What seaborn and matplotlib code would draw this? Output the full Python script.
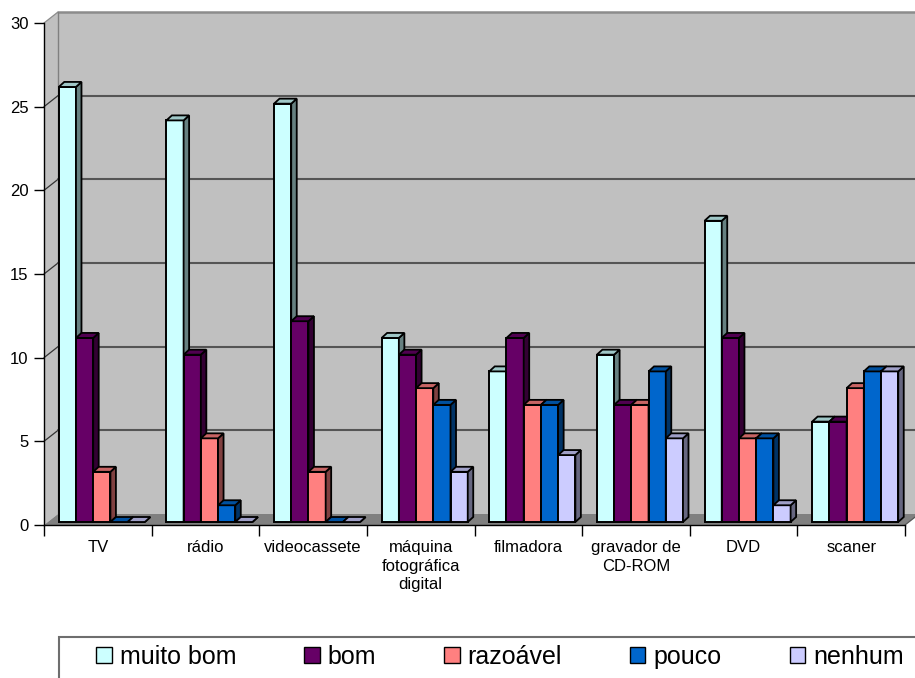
import numpy as np
import pandas as pd
import matplotlib
matplotlib.use("Agg")
import matplotlib.pyplot as plt
from matplotlib.patches import Polygon, Rectangle, Patch
from matplotlib.lines import Line2D
from matplotlib.transforms import ScaledTranslation
import seaborn as sns

# ---- data ----
itens = ["TV", "rádio", "videocassete", "máquina\nfotográfica\ndigital",
         "filmadora", "gravador de\nCD-ROM", "DVD", "scaner"]
avaliacoes = ["muito bom", "bom", "razoável", "pouco", "nenhum"]
muito_bom = [26, 24, 25, 11, 9, 10, 18, 6]
bom = [11, 10, 12, 10, 11, 7, 11, 6]
razoavel = [3, 5, 3, 8, 7, 7, 5, 8]
pouco = [0, 1, 0, 7, 7, 9, 5, 9]
nenhum = [0, 0, 0, 3, 4, 5, 1, 9]
cores = ["#CCFFFF", "#660066", "#FF8080", "#0066CC", "#CCCCFF"]
y_ticks = [0, 5, 10, 15, 20, 25, 30]

series = [muito_bom, bom, razoavel, pouco, nenhum]
df = pd.DataFrame({
    "item": [it for s in series for it in itens],
    "avaliação": [a for a, s in zip(avaliacoes, series) for _ in s],
    "valor": [v for s in series for v in s],
})

sns.set_theme(style="white")
plt.rcParams["font.family"] = ["Liberation Sans", "DejaVu Sans"]
plt.rcParams["text.color"] = "black"
plt.rcParams["xtick.color"] = "black"
plt.rcParams["ytick.color"] = "black"
plt.rcParams["xtick.labelcolor"] = "black"
plt.rcParams["ytick.labelcolor"] = "black"

W, H, DPI = 915, 678, 100
fig = plt.figure(figsize=(W / DPI, H / DPI), dpi=DPI)
fig.patch.set_facecolor("white")

# front plane of the plot area, in pixels
L, R, T, B = 44, 905, 23, 525
ax = fig.add_axes([L / W, 1 - B / H, (R - L) / W, (B - T) / H])
ax.set_facecolor("none")

sns.barplot(data=df, x="item", y="valor", hue="avaliação", order=itens,
            hue_order=avaliacoes, palette=cores, saturation=1, width=0.8,
            edgecolor="black", linewidth=1.4, legend=False, ax=ax)

n = len(itens)
ax.set_xlim(-0.5, n - 0.5)
ax.set_ylim(0, 30)
px_x = (R - L) / n
px_y = (B - T) / 30

# depth of the back wall and of each bar, converted to data units
wdx, wdy = 14 / px_x, 11 / px_y
bdx, bdy = 5.5 / px_x, 5 / px_y

wall = "#C0C0C0"
x0w, x1w = -0.5, n - 0.5
# back wall and left side wall
ax.add_patch(Polygon([(x0w + wdx, wdy), (x1w + wdx + 1, wdy), (x1w + wdx + 1, 30 + wdy),
                      (x0w + wdx, 30 + wdy)], closed=True, facecolor=wall,
                     edgecolor="none", zorder=0.1, clip_on=False))
ax.add_patch(Polygon([(x0w, 0), (x0w + wdx, wdy), (x0w + wdx, 30 + wdy), (x0w, 30)],
                     closed=True, facecolor=wall, edgecolor="none", zorder=0.1,
                     clip_on=False))
# floor
ax.add_patch(Polygon([(x0w, 0), (x1w, 0), (x1w + wdx, wdy), (x0w + wdx, wdy)],
                     closed=True, facecolor="#808080", edgecolor="none",
                     zorder=0.2, clip_on=False))
# gridlines on the walls
for v in y_ticks[1:]:
    col = "#8C8C8C" if v == 30 else "#555555"
    lw = 1.8 if v == 30 else 1.5
    ax.add_line(Line2D([x0w + wdx, x1w + wdx + 1], [v + wdy, v + wdy], color=col,
                       lw=lw, zorder=0.3, clip_on=False))
    ax.add_line(Line2D([x0w, x0w + wdx], [v, v + wdy], color="#333333" if v < 30 else "#8C8C8C",
                       lw=0.9, zorder=0.3, clip_on=False))
ax.add_line(Line2D([x0w + wdx, x0w + wdx], [wdy, 30 + wdy], color="#808080",
                   lw=1.0, zorder=0.3, clip_on=False))
ax.add_line(Line2D([x1w, x1w + wdx], [0, wdy], color="#555555",
                   lw=0.9, zorder=0.3, clip_on=False))

# give each bar its depth: top and side faces
shift = ScaledTranslation(4 / DPI, 3 / DPI, fig.dpi_scale_trans)
bar_tr = ax.transData + shift
for i, cont in enumerate(ax.containers):
    for bar in cont:
        x0, w, h = bar.get_x(), bar.get_width(), bar.get_height()
        fc = np.array(bar.get_facecolor()[:3])
        bar.set_transform(bar_tr)
        bar.set_zorder(2 + i)
        bar.set_clip_on(False)
        top = Polygon([(x0, h), (x0 + w, h), (x0 + w + bdx, h + bdy), (x0 + bdx, h + bdy)],
                      closed=True, facecolor=fc * 0.78, edgecolor="black", lw=1.3,
                      transform=bar_tr, zorder=2 + i, clip_on=False)
        side = Polygon([(x0 + w, 0), (x0 + w + bdx, bdy), (x0 + w + bdx, h + bdy), (x0 + w, h)],
                       closed=True, facecolor=fc * 0.5, edgecolor="black", lw=1.3,
                       transform=bar_tr, zorder=2 + i, clip_on=False)
        ax.add_patch(side)
        ax.add_patch(top)

# axes, ticks and labels
for s in ["top", "right"]:
    ax.spines[s].set_visible(False)
for s in ["left", "bottom"]:
    ax.spines[s].set_color("black")
    ax.spines[s].set_linewidth(1.0)
    ax.spines[s].set_zorder(10)

ax.set_yticks(y_ticks)
ax.set_yticklabels([str(v) for v in y_ticks], fontsize=12, color="black")
ax.tick_params(axis="y", direction="out", length=7, width=1.0, color="black", pad=4, left=True)
ax.set_xticks(range(n))
ax.set_xticklabels(itens, fontsize=12, linespacing=1.3, color="black")
ax.tick_params(axis="x", which="major", length=0, pad=11)
ax.set_xticks(np.arange(n + 1) - 0.5, minor=True)
ax.tick_params(axis="x", which="minor", direction="out", length=8, width=1.0,
               color="black", bottom=True)
ax.set_xlabel("")
ax.set_ylabel("")

# legend with its box running off the figure edge
handles = [Patch(facecolor=c, edgecolor="black", lw=1.0) for c in cores]
leg = fig.legend(handles, avaliacoes, ncol=5, loc="center left",
                 bbox_to_anchor=(96 / W, 1 - 657 / H), frameon=False, fontsize=18,
                 handlelength=0.62, handleheight=0.6, handletextpad=0.32,
                 columnspacing=2.72, borderpad=0, borderaxespad=0)
for t in leg.get_texts():
    t.set_color("black")
fig.patches.append(Rectangle((59 / W, -0.1), 1.2, (1 - 637 / H) + 0.1,
                             transform=fig.transFigure, facecolor="none",
                             edgecolor="#6E6E6E", lw=1.5, clip_on=False))

fig.savefig("out.png", dpi=DPI)
